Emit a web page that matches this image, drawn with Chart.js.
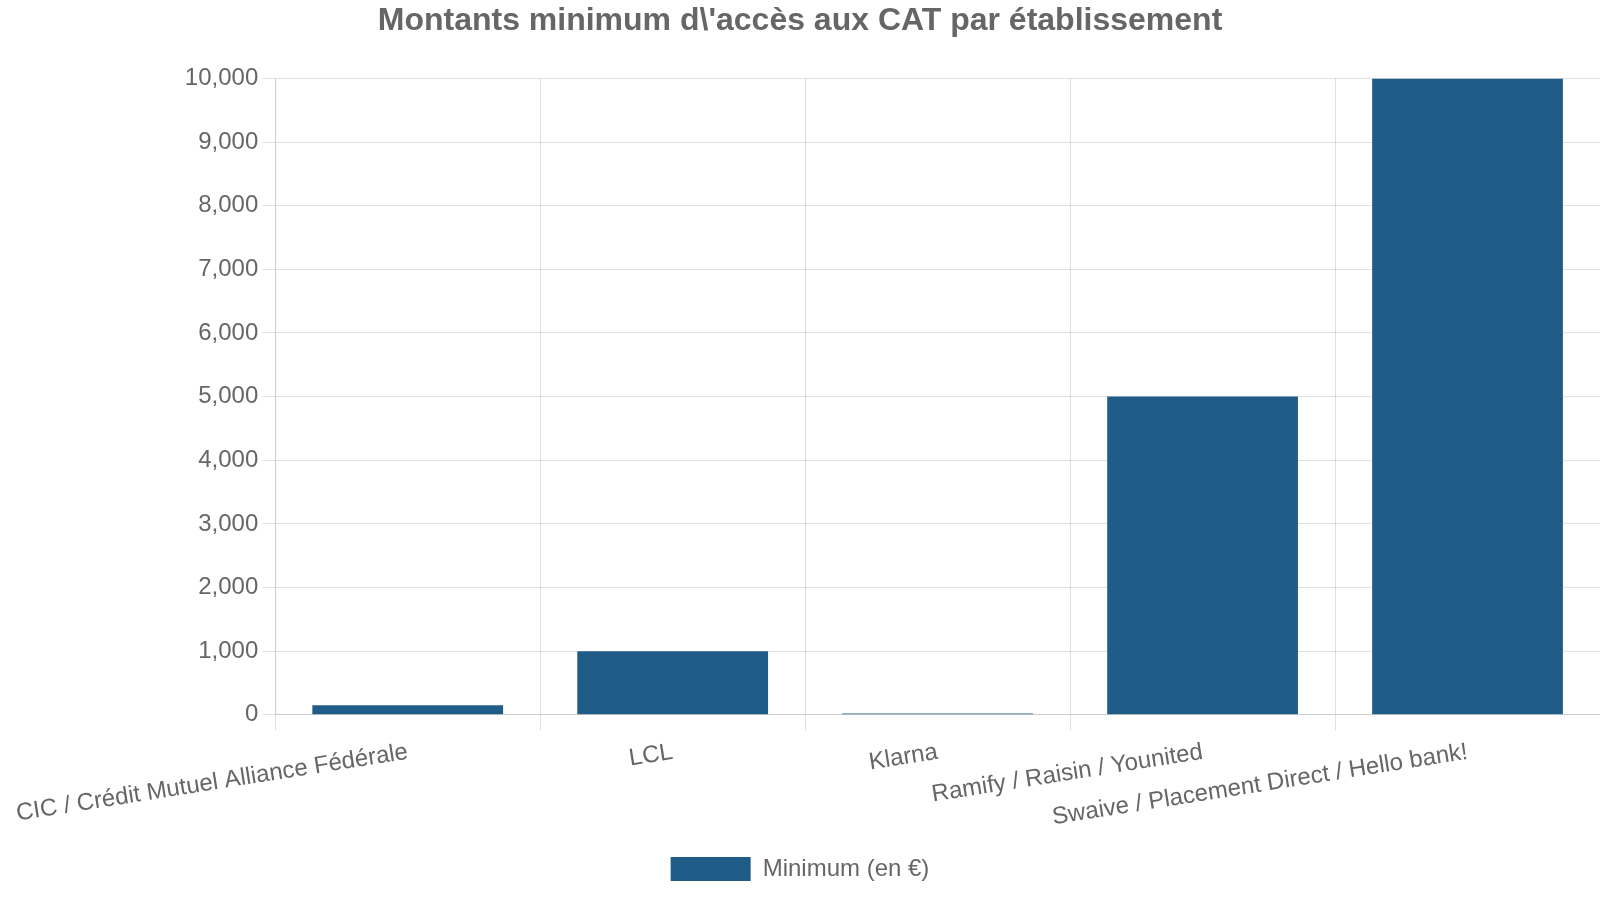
<!DOCTYPE html>
<html>
<head>
<meta charset="utf-8">
<script src="https://cdn.jsdelivr.net/npm/chart.js@4"></script>
<style>
html,body{margin:0;padding:0;background:#fff;}
#wrap{width:1600px;height:900px;}
</style>
</head>
<body>
<div id="wrap"><canvas id="c" width="1600" height="900"></canvas></div>
<script>
const categories = ["CIC / Crédit Mutuel Alliance Fédérale", "LCL", "Klarna", "Ramify / Raisin / Younited", "Swaive / Placement Direct / Hello bank!"];
const minimumValues = [150, 1000, 20, 5000, 10000];
const seriesLabel = "Minimum (en €)";
const chartTitle = "Montants minimum d\\'accès aux CAT par établissement";

Chart.defaults.font.family = "'Liberation Sans', Arial, sans-serif";
Chart.defaults.color = "#666";

new Chart(document.getElementById('c'), {
  type: 'bar',
  data: {
    labels: categories,
    datasets: [{
      label: seriesLabel,
      data: minimumValues,
      backgroundColor: '#1f5c87',
      borderWidth: 0
    }]
  },
  options: {
    responsive: false,
    animation: false,
    layout: { padding: { left: 0, right: 0, top: 0, bottom: 9 } },
    plugins: {
      title: {
        display: true,
        text: chartTitle,
        color: '#666',
        font: { size: 32, weight: 'bold' },
        padding: { top: 2, bottom: 38 }
      },
      legend: {
        position: 'bottom',
        labels: {
          boxWidth: 80,
          boxHeight: 24,
          font: { size: 24 },
          color: '#666',
          padding: 18
        }
      },
      tooltip: { enabled: false }
    },
    scales: {
      x: {
        grid: { color: 'rgba(0,0,0,0.12)', tickLength: 16 },
        border: { color: '#ccc' },
        ticks: { font: { size: 24 }, color: '#666', minRotation: 9, maxRotation: 9, autoSkip: false, padding: 7 }
      },
      y: {
        beginAtZero: true,
        max: 10000,
        grid: { color: 'rgba(0,0,0,0.12)', tickLength: 13 },
        border: { color: '#ccc' },
        ticks: { stepSize: 1000, font: { size: 24 }, color: '#666', padding: 4 }
      }
    }
  }
});
</script>
</body>
</html>
